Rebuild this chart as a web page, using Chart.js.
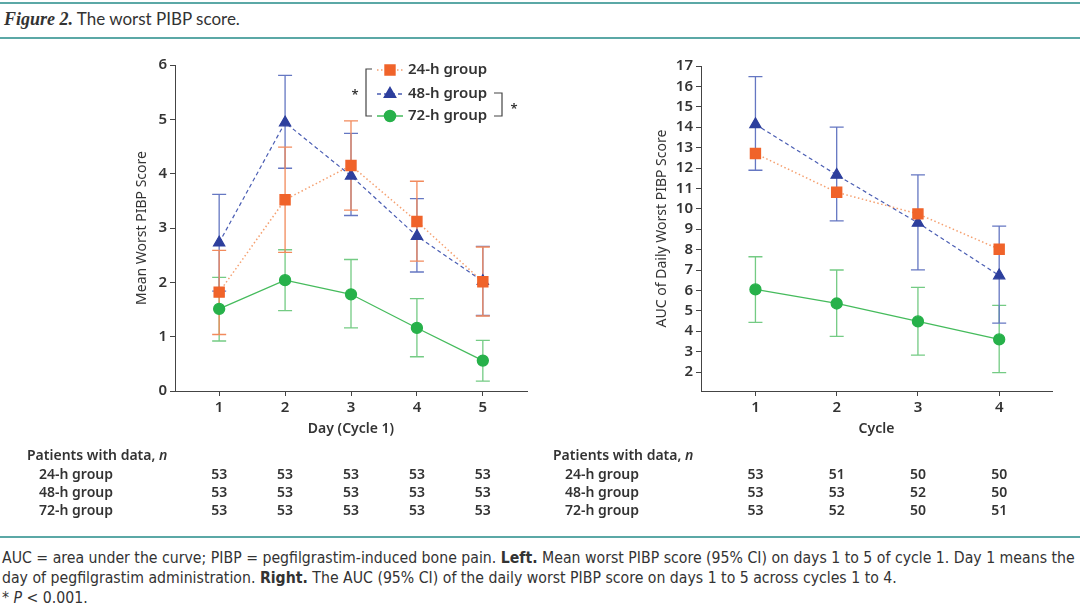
<!DOCTYPE html>
<html>
<head>
<meta charset="utf-8">
<script src="https://cdn.jsdelivr.net/npm/chart.js@4.4.1/dist/chart.umd.min.js"></script>
<style>
  body { margin: 0; width: 1080px; height: 609px; background: #fff; position: relative; overflow: hidden; color: #333; font-family: "Noto Sans", sans-serif; }
  .rule { position: absolute; left: 0; width: 1080px; height: 2px; background: #5ba8a6; }
  #head { position: absolute; left: 4px; top: 8px; font-size: 17px; font-family: Lato, sans-serif; white-space: nowrap; }
  #head b { font-family: "Liberation Serif", serif; font-style: italic; font-size: 18px; }
  .box { position: absolute; top: 40px; width: 540px; height: 490px; }
  #caption { position: absolute; left: 2px; top: 548px; font-family: "Liberation Sans Narrow", "DejaVu Sans Condensed", sans-serif; font-size: 15.7px; line-height: 20px; white-space: nowrap; color: #333; }
</style>
</head>
<body>
<div class="rule" style="top:2px"></div>
<div id="head"><b>Figure 2.</b> The worst PIBP score.</div>
<div class="rule" style="top:37px"></div>

<div class="box" style="left:0"><canvas id="leftChart" width="540" height="490"></canvas></div>
<div class="box" style="left:540px"><canvas id="rightChart" width="540" height="490"></canvas></div>

<div class="rule" style="top:536px"></div>
<div id="caption">
AUC = area under the curve; PIBP = pegfilgrastim-induced bone pain. <b>Left.</b> Mean worst PIBP score (95% CI) on days 1 to 5 of cycle 1. Day 1 means the<br>
day of pegfilgrastim administration. <b>Right.</b> The AUC (95% CI) of the daily worst PIBP score on days 1 to 5 across cycles 1 to 4.<br>
* <i>P</i> &lt; 0.001.
</div>

<script>
// Left panel: day 1-5 of cycle 1
const days = [1, 2, 3, 4, 5];
const day24 = [1.82, 3.52, 4.15, 3.12, 2.01];
const day24Lo = [1.04, 2.55, 3.33, 2.39, 1.38];
const day24Hi = [2.59, 4.49, 4.97, 3.86, 2.65];
const day48 = [2.73, 4.94, 3.96, 2.85, 2.02];
const day48Lo = [1.84, 4.10, 3.23, 2.19, 1.39];
const day48Hi = [3.62, 5.81, 4.74, 3.54, 2.66];
const day72 = [1.51, 2.04, 1.78, 1.16, 0.56];
const day72Lo = [0.92, 1.48, 1.16, 0.63, 0.18];
const day72Hi = [2.09, 2.60, 2.42, 1.70, 0.93];

// Right panel: AUC per cycle
const cycles = [1, 2, 3, 4];
const auc24 = [12.71, 10.81, 9.75, 8.02];
const auc48 = [14.14, 11.66, 9.31, 6.73];
const auc48Lo = [11.89, 9.41, 7.01, 4.40];
const auc48Hi = [16.48, 14.0, 11.66, 9.15];
const auc72 = [6.05, 5.36, 4.48, 3.60];
const auc72Lo = [4.43, 3.75, 2.83, 1.97];
const auc72Hi = [7.65, 7.0, 6.15, 5.27];

// Patients with data, n
const groupNames = ["24-h group", "48-h group", "72-h group"];
const nLeft = [
  [53, 53, 53, 53, 53],
  [53, 53, 53, 53, 53],
  [53, 53, 53, 53, 53],
];
const nRight = [
  [53, 51, 50, 50],
  [53, 53, 52, 50],
  [53, 52, 50, 51],
];

const ORANGE = "#f0632a", ORANGE_LINE = "#f5a070", ORANGE_ERR = "#f28a5c";
const BLUE = "#2d3f9d", BLUE_LINE = "#4a5db3", BLUE_ERR = "#6577c2";
const GREEN = "#27b14a", GREEN_LINE = "#45bb5c", GREEN_ERR = "#74cb84";
const AXIS = "#444";
const FONT = "'Noto Sans'";

const pts = (xs, ys) => xs.map((x, i) => ({ x: x, y: ys[i] }));

// error bars drawn under the markers, last dataset first
const errorBars = {
  id: "errorBars",
  beforeDatasetsDraw(chart) {
    const ctx = chart.ctx;
    const xs = chart.scales.x, ys = chart.scales.y;
    chart.data.datasets.slice().reverse().forEach((ds) => {
      if (!ds.errLow) return;
      ctx.save();
      ctx.strokeStyle = ds.errColor;
      ctx.lineWidth = 1.3;
      ds.data.forEach((p, i) => {
        const px = xs.getPixelForValue(p.x);
        const lo = ys.getPixelForValue(ds.errLow[i]);
        const hi = ys.getPixelForValue(ds.errHigh[i]);
        ctx.beginPath();
        ctx.moveTo(px, lo); ctx.lineTo(px, hi);
        ctx.moveTo(px - 7, lo); ctx.lineTo(px + 7, lo);
        ctx.moveTo(px - 7, hi); ctx.lineTo(px + 7, hi);
        ctx.stroke();
      });
      ctx.restore();
    });
  },
};

// table of n below each panel
const nTable = {
  id: "nTable",
  afterDraw(chart, args, opts) {
    const ctx = chart.ctx;
    const xs = chart.scales.x;
    ctx.save();
    ctx.fillStyle = "#333";
    ctx.textBaseline = "middle";
    ctx.textAlign = "left";
    ctx.font = "600 14px " + FONT;
    ctx.fillText("Patients with data, ", opts.labelX, opts.top);
    const w = ctx.measureText("Patients with data, ").width;
    ctx.font = "italic 600 14px " + FONT;
    ctx.fillText("n", opts.labelX + w, opts.top);
    ctx.font = "600 14px " + FONT;
    groupNames.forEach((g, r) => {
      const y = opts.top + 19 + r * 18;
      ctx.textAlign = "left";
      ctx.fillText(g, opts.labelX + 12, y);
      ctx.textAlign = "center";
      opts.counts[r].forEach((n, c) => {
        ctx.fillText(String(n), xs.getPixelForValue(opts.cols[c]), y);
      });
    });
    ctx.restore();
  },
};

// legend with significance brackets (left panel only)
const bracketLegend = {
  id: "bracketLegend",
  afterDraw(chart, args, opts) {
    if (!opts.show) return;
    const ctx = chart.ctx;
    const items = [
      { text: "24-h group", line: ORANGE_LINE, dash: [1.5, 2.5], color: ORANGE, style: "rect", r: 7, y: 30 },
      { text: "48-h group", line: BLUE_LINE, dash: [4, 3], color: BLUE, style: "triangle", r: 6.5, y: 54 },
      { text: "72-h group", line: GREEN_LINE, dash: [], color: GREEN, style: "circle", r: 5.5, y: 76 },
    ];
    ctx.save();
    items.forEach((it) => {
      ctx.strokeStyle = it.line;
      ctx.lineWidth = 1.5;
      ctx.setLineDash(it.dash);
      ctx.beginPath();
      ctx.moveTo(377, it.y); ctx.lineTo(403, it.y);
      ctx.stroke();
      ctx.setLineDash([]);
      ctx.fillStyle = it.color;
      ctx.strokeStyle = it.color;
      Chart.helpers.drawPoint(ctx, { pointStyle: it.style, radius: it.r, rotation: 0, borderWidth: 1 }, 390, it.y);
      ctx.fillStyle = "#333";
      ctx.font = "600 15px " + FONT;
      ctx.textAlign = "left";
      ctx.textBaseline = "middle";
      ctx.fillText(it.text, 408, it.y);
    });
    ctx.strokeStyle = AXIS;
    ctx.lineWidth = 1.2;
    ctx.beginPath();
    ctx.moveTo(372, 29); ctx.lineTo(366, 29); ctx.lineTo(366, 76); ctx.lineTo(372, 76);
    ctx.moveTo(494, 53); ctx.lineTo(502, 53); ctx.lineTo(502, 76); ctx.lineTo(494, 76);
    ctx.stroke();
    ctx.fillStyle = "#333";
    ctx.font = "600 13px " + FONT;
    ctx.textAlign = "center";
    ctx.fillText("*", 355, 55);
    ctx.fillText("*", 514, 69);
    ctx.restore();
  },
};

const tickFont = { family: "Noto Sans", size: 15, weight: "600" };

// Left chart
new Chart(document.getElementById("leftChart"), {
  type: "line",
  data: {
    datasets: [
      {
        label: "24-h group",
        data: pts(days, day24),
        borderColor: ORANGE_LINE,
        borderWidth: 1.5,
        borderDash: [1.5, 2.5],
        pointStyle: "rect",
        pointRadius: 7,
        pointBackgroundColor: ORANGE,
        pointBorderColor: ORANGE,
        errLow: day24Lo,
        errHigh: day24Hi,
        errColor: ORANGE_ERR,
      },
      {
        label: "48-h group",
        data: pts(days, day48),
        borderColor: BLUE_LINE,
        borderWidth: 1.2,
        borderDash: [4, 3],
        pointStyle: "triangle",
        pointRadius: 6.5,
        pointBackgroundColor: BLUE,
        pointBorderColor: BLUE,
        errLow: day48Lo,
        errHigh: day48Hi,
        errColor: BLUE_ERR,
      },
      {
        label: "72-h group",
        data: pts(days, day72),
        borderColor: GREEN_LINE,
        borderWidth: 1.3,
        pointStyle: "circle",
        pointRadius: 5.5,
        pointBackgroundColor: GREEN,
        pointBorderColor: GREEN,
        errLow: day72Lo,
        errHigh: day72Hi,
        errColor: GREEN_ERR,
      },
    ],
  },
  options: {
    responsive: false,
    animation: false,
    events: [],
    layout: { padding: { left: 130, right: 13, top: 25, bottom: 89 } },
    plugins: {
      legend: { display: false },
      tooltip: { enabled: false },
      nTable: { labelX: 27, top: 416, cols: days, counts: nLeft },
      bracketLegend: { show: true },
    },
    scales: {
      x: {
        type: "linear",
        min: 0.33,
        max: 5.67,
        afterBuildTicks: (s) => { s.ticks = days.map((v) => ({ value: v })); },
        afterFit: (s) => { s.height = 50; },
        grid: { drawOnChartArea: false, tickLength: 5, color: AXIS },
        border: { color: AXIS },
        ticks: { font: tickFont, color: "#333", padding: 3 },
        title: { display: true, text: "Day (Cycle 1)", font: { family: "Noto Sans", size: 14, weight: "600" }, color: "#333" },
      },
      y: {
        min: 0,
        max: 6,
        afterBuildTicks: (s) => { s.ticks = [0, 1, 2, 3, 4, 5, 6].map((v) => ({ value: v })); },
        afterFit: (s) => { s.width = 45; },
        grid: { drawOnChartArea: false, tickLength: 5, color: AXIS },
        border: { color: AXIS },
        ticks: { font: tickFont, color: "#333", padding: 3 },
        title: { display: true, text: "Mean Worst PIBP Score", font: { family: "Noto Sans", size: 14 }, color: "#333" },
      },
    },
  },
  plugins: [errorBars, nTable, bracketLegend],
});

// Right chart
new Chart(document.getElementById("rightChart"), {
  type: "line",
  data: {
    datasets: [
      {
        label: "24-h group",
        data: pts(cycles, auc24),
        borderColor: ORANGE_LINE,
        borderWidth: 1.5,
        borderDash: [1.5, 2.5],
        pointStyle: "rect",
        pointRadius: 7,
        pointBackgroundColor: ORANGE,
        pointBorderColor: ORANGE,
      },
      {
        label: "48-h group",
        data: pts(cycles, auc48),
        borderColor: BLUE_LINE,
        borderWidth: 1.2,
        borderDash: [4, 3],
        pointStyle: "triangle",
        pointRadius: 6.5,
        pointBackgroundColor: BLUE,
        pointBorderColor: BLUE,
        errLow: auc48Lo,
        errHigh: auc48Hi,
        errColor: BLUE_ERR,
      },
      {
        label: "72-h group",
        data: pts(cycles, auc72),
        borderColor: GREEN_LINE,
        borderWidth: 1.3,
        pointStyle: "circle",
        pointRadius: 5.5,
        pointBackgroundColor: GREEN,
        pointBorderColor: GREEN,
        errLow: auc72Lo,
        errHigh: auc72Hi,
        errColor: GREEN_ERR,
      },
    ],
  },
  options: {
    responsive: false,
    animation: false,
    events: [],
    layout: { padding: { left: 110, right: 28, top: 26, bottom: 89 } },
    plugins: {
      legend: { display: false },
      tooltip: { enabled: false },
      nTable: { labelX: 13, top: 416, cols: cycles, counts: nRight },
      bracketLegend: { show: false },
    },
    scales: {
      x: {
        type: "linear",
        min: 0.33,
        max: 4.65,
        afterBuildTicks: (s) => { s.ticks = cycles.map((v) => ({ value: v })); },
        afterFit: (s) => { s.height = 50; },
        grid: { drawOnChartArea: false, tickLength: 5, color: AXIS },
        border: { color: AXIS },
        ticks: { font: tickFont, color: "#333", padding: 3 },
        title: { display: true, text: "Cycle", font: { family: "Noto Sans", size: 14, weight: "600" }, color: "#333" },
      },
      y: {
        min: 1.07,
        max: 17,
        afterBuildTicks: (s) => {
          const t = [];
          for (let v = 2; v <= 17; v++) t.push({ value: v });
          s.ticks = t;
        },
        afterFit: (s) => { s.width = 51; },
        grid: { drawOnChartArea: false, tickLength: 5, color: AXIS },
        border: { color: AXIS },
        ticks: { font: tickFont, color: "#333", padding: 3 },
        title: { display: true, text: "AUC of Daily Worst PIBP Score", font: { family: "Noto Sans", size: 14 }, color: "#333" },
      },
    },
  },
  plugins: [errorBars, nTable, bracketLegend],
});
</script>
</body>
</html>
